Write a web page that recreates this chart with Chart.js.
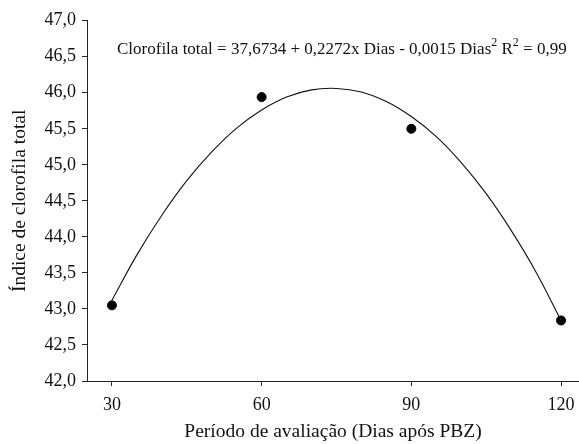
<!DOCTYPE html>
<html>
<head>
<meta charset="utf-8">
<script src="https://cdn.jsdelivr.net/npm/chart.js@4"></script>
<style>
html,body{margin:0;padding:0;background:#fff;}
#wrap{width:579px;height:444px;position:relative;}
</style>
</head>
<body>
<div id="wrap"><canvas id="c" width="579" height="444"></canvas></div>
<script>
const days = [30, 60, 90, 120];
const chlorophyll = [43.05, 45.94, 45.50, 42.84];
const curveDays = [30,35,40,45,50,55,60,65,70,75,80,85,90,95,100,105,110,115,120];
const curveValues = [43.12,43.75,44.30,44.78,45.18,45.51,45.76,45.94,46.04,46.06,46.01,45.88,45.67,45.39,45.03,44.60,44.09,43.51,42.84];
const xTicks = [30, 60, 90, 120];
const yTicks = [42.0,42.5,43.0,43.5,44.0,44.5,45.0,45.5,46.0,46.5,47.0];

const FONT = "'Liberation Serif', 'Times New Roman', serif";

const eqPlugin = {
  id: 'eq',
  afterDraw(chart) {
    const ctx = chart.ctx;
    ctx.save();
    ctx.fillStyle = '#111';
    ctx.textBaseline = 'alphabetic';
    const y = 54;
    let x = 117;
    const parts = [
      ['Clorofila total = 37,6734 + 0,2272x Dias - 0,0015 Dias', false],
      ['2', true],
      [' R', false],
      ['2', true],
      [' = 0,99', false]
    ];
    for (const [t, sup] of parts) {
      ctx.font = (sup ? '12px ' : '17px ') + FONT;
      ctx.fillText(t, x, sup ? y - 8 : y);
      x += ctx.measureText(t).width;
    }
    ctx.restore();
  }
};

new Chart(document.getElementById('c'), {
  type: 'scatter',
  data: {
    datasets: [
      {
        type: 'line',
        data: curveDays.map((d, i) => ({x: d, y: curveValues[i]})),
        borderColor: '#111',
        borderWidth: 1.1,
        pointRadius: 0,
        tension: 0.4,
        fill: false
      },
      {
        data: days.map((d, i) => ({x: d, y: chlorophyll[i]})),
        backgroundColor: '#000',
        borderColor: '#000',
        pointRadius: 4.5
      }
    ]
  },
  options: {
    responsive: false,
    animation: false,
    events: [],
    layout: {autoPadding: false, padding: {top: 20.7, right: 0, left: 8, bottom: 0}},
    plugins: {legend: {display: false}, tooltip: {enabled: false}},
    scales: {
      x: {
        type: 'linear',
        min: 25, max: 123.6,
        afterBuildTicks(s) { s.ticks = xTicks.map(v => ({value: v})); },
        afterFit(s) { s.height = 63; s.paddingRight = 0; s.paddingLeft = 0; },
        grid: {display: true, drawOnChartArea: false, drawTicks: true, tickLength: 5, tickColor: '#222'},
        border: {display: true, color: '#222', width: 1},
        ticks: {color: '#111', font: {family: FONT, size: 18}, padding: 8, maxRotation: 0},
        title: {display: true, text: 'Período de avaliação (Dias após PBZ)', color: '#111', font: {family: FONT, size: 19.5}, padding: {top: 0, bottom: 0}}
      },
      y: {
        min: 42, max: 47,
        afterBuildTicks(s) { s.ticks = yTicks.map(v => ({value: v})); },
        afterFit(s) { s.width = 79; s.paddingTop = 0; s.paddingBottom = 0; },
        grid: {display: true, drawOnChartArea: false, drawTicks: true, tickLength: 5, tickColor: '#222'},
        border: {display: true, color: '#222', width: 1},
        ticks: {color: '#111', font: {family: FONT, size: 18}, padding: 6, callback: v => v.toFixed(1).replace('.', ',')},
        title: {display: true, text: 'Índice de clorofila total', color: '#111', font: {family: FONT, size: 19.5}, padding: {top: 0, bottom: 4}}
      }
    }
  },
  plugins: [eqPlugin]
});
</script>
</body>
</html>
